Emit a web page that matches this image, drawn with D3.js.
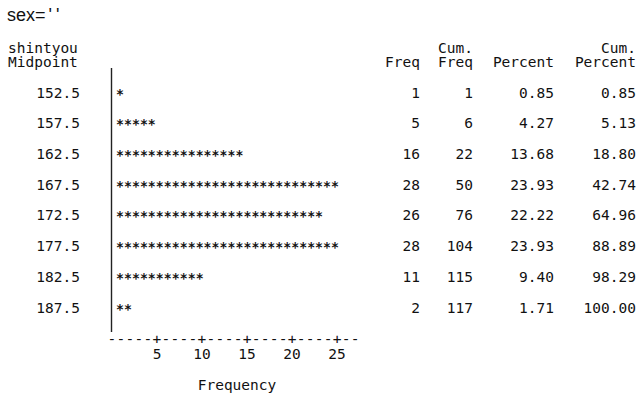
<!DOCTYPE html>
<html><head><meta charset="utf-8">
<script src="https://cdn.jsdelivr.net/npm/d3@7"></script>
<style>
html,body{margin:0;padding:0;background:#fff;}
svg text{fill:#111;}
.mono{font-family:"DejaVu Sans Mono",monospace;font-size:14.5px;}
</style></head>
<body><svg id="c" width="641" height="403"></svg>
<script>
const titleVar = "sex=";
const titleQuotes = ["'", "'"];
const midpoints = ["152.5","157.5","162.5","167.5","172.5","177.5","182.5","187.5"];
const freq = [1,5,16,28,26,28,11,2];
const cumFreq = [1,6,22,50,76,104,115,117];
const percent = ["0.85","4.27","13.68","23.93","22.22","23.93","9.40","1.71"];
const cumPercent = ["0.85","5.13","18.80","42.74","64.96","88.89","98.29","100.00"];
const tickValues = [5,10,15,20,25];
const axisText = "-----+----+----+----+----+--";

const svg = d3.select("#c");
const y = d3.scalePoint().domain(midpoints).range([93, 308]);
const xStar = d3.scaleLinear().domain([0, 28]).range([116, 339]);
const xAxis = d3.scaleLinear().domain([0, 1]).range([107.5 + 4.5, 107.5 + 4.5 + 9]);
const base = 4.6; // digit baseline offset from row centre

const t = svg.append("text").attr("x", 7).attr("y", 21)
  .style("font-family", "'Liberation Sans',Arial,sans-serif").style("font-size", "18px");
t.append("tspan").text(titleVar);
t.append("tspan").attr("dx", 3).text(titleQuotes[0]);
t.append("tspan").attr("dx", 4).text(titleQuotes[1]);

// row header
svg.append("text").attr("class","mono").attr("x", 8).attr("y", 53).text("shintyou");
svg.append("text").attr("class","mono").attr("x", 8).attr("y", 67).text("Midpoint");

// column headers
const cols = [
  {right: 420, top: null, bot: "Freq", vals: freq},
  {right: 473, top: "Cum.", bot: "Freq", vals: cumFreq},
  {right: 554, top: null, bot: "Percent", vals: percent},
  {right: 636, top: "Cum.", bot: "Percent", vals: cumPercent}
];
cols.forEach(c => {
  if (c.top) svg.append("text").attr("class","mono").attr("text-anchor","end")
    .attr("x", c.right).attr("y", 53).text(c.top);
  svg.append("text").attr("class","mono").attr("text-anchor","end")
    .attr("x", c.right).attr("y", 67).text(c.bot);
  svg.selectAll(null).data(c.vals).join("text").attr("class","mono")
    .attr("text-anchor","end").attr("x", c.right)
    .attr("y", (d,i) => y(midpoints[i]) + base).text(d => d);
});

// midpoint labels
svg.selectAll(null).data(midpoints).join("text").attr("class","mono")
  .attr("text-anchor","end").attr("x", 80).attr("y", d => y(d) + base).text(d => d);

// vertical axis line
svg.append("line").attr("x1", 111.5).attr("x2", 111.5).attr("y1", 68).attr("y2", 332)
  .attr("stroke", "#222").attr("stroke-width", 1.4);

// stars (one per unit of frequency)
midpoints.forEach((m, i) => {
  svg.selectAll(null).data(d3.range(freq[i])).join("text")
    .style("font-family", "'DejaVu Sans Mono',monospace").style("font-size", "13.2px")
    .style("font-weight", "bold")
    .attr("text-anchor","middle")
    .attr("x", k => xStar(k + 0.5)).attr("y", y(m) + 5.5).text("*");
});

// horizontal text axis
svg.append("text").attr("class","mono")
  .attr("x", xAxis(0) - 4.5).attr("y", 344)
  .attr("textLength", axisText.length * 9).attr("lengthAdjust", "spacing")
  .text(axisText);
svg.selectAll(null).data(tickValues).join("text").attr("class","mono")
  .attr("text-anchor","middle").attr("x", v => xAxis(v)).attr("y", 354 + base).text(v => v);
svg.append("text").attr("class","mono").attr("text-anchor","middle")
  .attr("x", 237).attr("y", 385 + base).text("Frequency");
</script></body></html>
